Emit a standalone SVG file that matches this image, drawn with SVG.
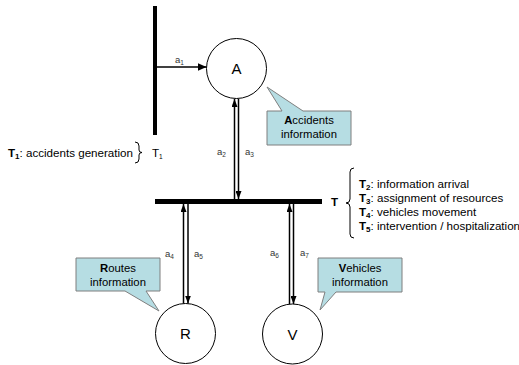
<svg xmlns="http://www.w3.org/2000/svg" width="519" height="365" viewBox="0 0 519 365">
<style>
text{font-family:"Liberation Sans",Arial,sans-serif;fill:#000}
.lbl{font-size:9.5px;fill:#333}
.sub{font-size:6.5px}
.node{fill:#fff;stroke:#000;stroke-width:1}
.nt{font-size:15px;text-anchor:middle}
.call{fill:#b6dde3;stroke:#7f7f7f;stroke-width:1}
.ct{font-size:11.3px;text-anchor:middle}
.lg{font-size:11.6px}
.ls{font-size:8px;font-weight:bold}
.edge{stroke:#000;stroke-width:1.5;fill:none}
.br{stroke:#000;stroke-width:1;fill:none}
</style>
<defs>
<marker id="ah" markerUnits="userSpaceOnUse" markerWidth="9" markerHeight="8" refX="9" refY="4" orient="auto">
<path d="M0,0 L9,4 L0,8 Z" fill="#000"/>
</marker>
<marker id="ahs" markerUnits="userSpaceOnUse" markerWidth="8" markerHeight="6" refX="8" refY="3" orient="auto">
<path d="M0,0 L8,3 L0,6 Z" fill="#000"/>
</marker>
</defs>

<g id="T1">
<rect x="153" y="6" width="4" height="129" fill="#000"/>
<text x="152" y="157" font-size="11.6">T<tspan class="sub" font-size="7" dy="2">1</tspan></text>
</g>
<g id="T">
<rect x="155" y="199" width="167" height="5" fill="#000"/>
<text x="331" y="206" font-size="11.6" font-weight="bold">T</text>
</g>

<g id="A">
<circle class="node" cx="236.5" cy="68.5" r="30"/>
<text class="nt" x="236.5" y="74">A</text>
</g>
<g id="R">
<circle class="node" cx="185.5" cy="333.5" r="30"/>
<text class="nt" x="185.5" y="339">R</text>
</g>
<g id="V">
<circle class="node" cx="292.5" cy="334" r="30"/>
<text class="nt" x="292.5" y="339.5">V</text>
</g>

<g id="connectors">
<line class="edge" x1="157" y1="67" x2="206.5" y2="67" marker-end="url(#ah)"/>
<line class="edge" x1="234.5" y1="199" x2="234.5" y2="99" marker-end="url(#ahs)"/>
<line class="edge" x1="238.5" y1="99" x2="238.5" y2="199" marker-end="url(#ahs)"/>
<line class="edge" x1="183.5" y1="303.5" x2="183.5" y2="204" marker-end="url(#ahs)"/>
<line class="edge" x1="188" y1="204" x2="188" y2="303.5" marker-end="url(#ahs)"/>
<line class="edge" x1="289.5" y1="304" x2="289.5" y2="204" marker-end="url(#ahs)"/>
<line class="edge" x1="293.5" y1="204" x2="293.5" y2="304" marker-end="url(#ahs)"/>
</g>

<g id="edge-labels">
<text class="lbl" x="175" y="63">a<tspan class="sub" dy="2">1</tspan></text>
<text class="lbl" x="217" y="155">a<tspan class="sub" dy="2">2</tspan></text>
<text class="lbl" x="245" y="155">a<tspan class="sub" dy="2">3</tspan></text>
<text class="lbl" x="165" y="257">a<tspan class="sub" dy="2">4</tspan></text>
<text class="lbl" x="194" y="257">a<tspan class="sub" dy="2">5</tspan></text>
<text class="lbl" x="270" y="256">a<tspan class="sub" dy="2">6</tspan></text>
<text class="lbl" x="300" y="256">a<tspan class="sub" dy="2">7</tspan></text>
</g>

<g id="callout-accidents">
<path class="call" d="M267,111 H282 L267,87 L303,111 H351 V145 H267 Z"/>
<text class="ct" x="309" y="124"><tspan font-weight="bold">A</tspan>ccidents</text>
<text class="ct" x="309" y="138">information</text>
</g>
<g id="callout-routes">
<path class="call" d="M76,258 H160 V291 H146 L159,311 L125,291 H76 Z"/>
<text class="ct" x="118" y="272"><tspan font-weight="bold">R</tspan>outes</text>
<text class="ct" x="118" y="286">information</text>
</g>
<g id="callout-vehicles">
<path class="call" d="M318,258 H402 V292 H336 L320,310 L325,292 H318 Z"/>
<text class="ct" x="360" y="272"><tspan font-weight="bold">V</tspan>ehicles</text>
<text class="ct" x="360" y="286">information</text>
</g>

<g id="legend-T1">
<text class="lg" x="8" y="157"><tspan font-weight="bold">T</tspan><tspan class="ls" dy="2">1</tspan><tspan dy="-2">: accidents generation</tspan></text>
<path class="br" d="M135,142 Q139,142 139,146 L139,150 Q139,152.5 142,152.5 Q139,152.5 139,155 L139,159 Q139,163 135,163"/>
</g>
<g id="legend-T">
<path class="br" d="M354,168 Q350,168 350,172 L350,199 Q350,203 346,203 Q350,203 350,207 L350,234 Q350,238 354,238"/>
<text class="lg" x="359" y="188"><tspan font-weight="bold">T</tspan><tspan class="ls" dy="2">2</tspan><tspan dy="-2">: information arrival</tspan></text>
<text class="lg" x="359" y="202"><tspan font-weight="bold">T</tspan><tspan class="ls" dy="2">3</tspan><tspan dy="-2">: assignment of resources</tspan></text>
<text class="lg" x="359" y="216"><tspan font-weight="bold">T</tspan><tspan class="ls" dy="2">4</tspan><tspan dy="-2">: vehicles movement</tspan></text>
<text class="lg" x="359" y="230"><tspan font-weight="bold">T</tspan><tspan class="ls" dy="2">5</tspan><tspan dy="-2">: intervention / hospitalization</tspan></text>
</g>
</svg>
